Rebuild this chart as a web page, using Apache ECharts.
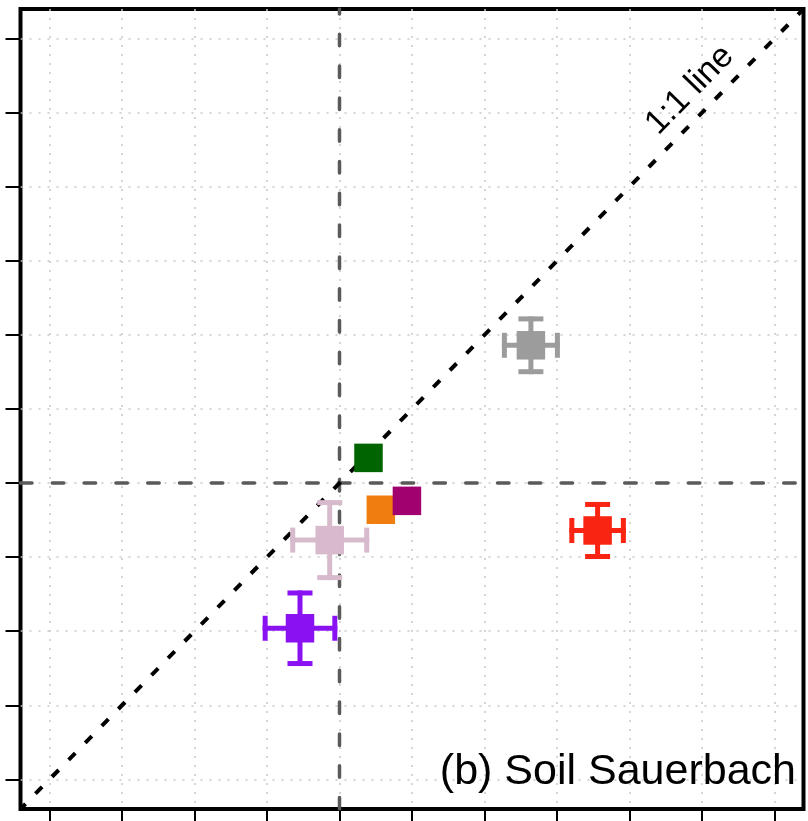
<!DOCTYPE html>
<html>
<head>
<meta charset="utf-8">
<script src="https://cdn.jsdelivr.net/npm/echarts@6/dist/echarts.min.js"></script>
<style>
  html, body { margin: 0; padding: 0; background: #fff; }
  #chart { width: 808px; height: 821px; }
</style>
</head>
<body>
<div id="chart"></div>
<script>
// sample points: centre and +/- error in both directions
const sampleNames = ['purple', 'pink', 'green', 'orange', 'magenta', 'grey', 'red'];
const xValues = [-0.545, -0.135, 0.40, 0.57, 0.93, 2.64, 3.56];
const yValues = [-1.96, -0.77, 0.34, -0.36, -0.24, 1.86, -0.64];
const xErrors = [0.515, 0.545, 0.1, 0.1, 0.1, 0.40, 0.39];
const yErrors = [0.51, 0.54, 0.1, 0.1, 0.1, 0.39, 0.385];
const sampleColors = ['#8A12F2', '#D8BACD', '#006400', '#EF7D0F', '#A1006F', '#9C9C9C', '#FA2412'];

// axes: same range on both, ticks without labels
const axisMin = -4.4;
const axisMax = 6.4;
const tickValues = [-4, -3, -2, -1, 0, 1, 2, 3, 4, 5, 6];
const zeroValue = 0;

const font = '"Liberation Sans", Arial, sans-serif';

const chart = echarts.init(document.getElementById('chart'));

function errorBarItem(params, api) {
    const x = api.value(0), y = api.value(1);
    const ex = api.value(2), ey = api.value(3);
    const c = api.coord([x, y]);
    const l = api.coord([x - ex, y]);
    const r = api.coord([x + ex, y]);
    const t = api.coord([x, y + ey]);
    const b = api.coord([x, y - ey]);
    const w = 5, cap = 25, sq = 28.5;
    const fill = api.visual('color');
    const rects = [
        { x: l[0], y: c[1] - w / 2, width: r[0] - l[0], height: w },
        { x: c[0] - w / 2, y: t[1], width: w, height: b[1] - t[1] },
        { x: l[0], y: c[1] - cap / 2, width: w, height: cap },
        { x: r[0] - w, y: c[1] - cap / 2, width: w, height: cap },
        { x: c[0] - cap / 2, y: t[1], width: cap, height: w },
        { x: c[0] - cap / 2, y: b[1] - w, width: cap, height: w },
        { x: c[0] - sq / 2, y: c[1] - sq / 2, width: sq, height: sq }
    ];
    return {
        type: 'group',
        children: rects.map(function (s) {
            return { type: 'rect', shape: s, style: { fill: fill } };
        })
    };
}

const axisCommon = {
    type: 'value',
    min: axisMin,
    max: axisMax,
    axisLine: { show: false, onZero: false },
    axisLabel: { show: false },
    axisTick: {
        show: true,
        inside: false,
        customValues: tickValues,
        length: 15,
        lineStyle: { color: '#000', width: 2 }
    },
    splitLine: {
        show: true,
        lineStyle: { color: '#c8c8c8', width: 1.5, type: [2, 7] }
    }
};

const zeroStyle = { color: '#5a5a5a', width: 3.5, cap: 'round', type: [11.5, 20.3] };

const series = [
    {
        name: 'zero x',
        type: 'line',
        z: 2,
        silent: true,
        showSymbol: false,
        data: [[axisMin, zeroValue], [axisMax, zeroValue]],
        lineStyle: zeroStyle
    },
    {
        name: 'zero y',
        type: 'line',
        z: 2,
        silent: true,
        showSymbol: false,
        data: [[zeroValue, axisMin], [zeroValue, axisMax]],
        lineStyle: zeroStyle
    },
    {
        name: '1:1 line',
        type: 'line',
        z: 2,
        silent: true,
        showSymbol: false,
        data: [[axisMin, axisMin], [axisMax, axisMax]],
        lineStyle: { color: '#000', width: 4, type: [9.5, 14.2], dashOffset: 2.3 }
    }
];

sampleNames.forEach(function (name, i) {
    series.push({
        name: name,
        type: 'custom',
        z: 3,
        renderItem: errorBarItem,
        itemStyle: { color: sampleColors[i] },
        data: [[xValues[i], yValues[i], xErrors[i], yErrors[i]]]
    });
});

const option = {
    backgroundColor: '#fff',
    animation: false,
    grid: {
        left: 20.5,
        right: 4.5,
        top: 9,
        bottom: 12,
        show: true,
        borderColor: '#000',
        borderWidth: 4,
        backgroundColor: 'transparent'
    },
    xAxis: axisCommon,
    yAxis: axisCommon,
    graphic: [
        {
            type: 'text',
            x: 690,
            y: 90,
            rotation: Math.atan2(800, 783),
            z: 10,
            style: {
                text: '1:1 line',
                font: '34px ' + font,
                fill: '#000',
                align: 'center',
                verticalAlign: 'middle'
            }
        },
        {
            type: 'text',
            x: 796,
            y: 772.5,
            z: 10,
            style: {
                text: '(b) Soil Sauerbach',
                font: '43px ' + font,
                fill: '#000',
                align: 'right',
                verticalAlign: 'middle'
            }
        }
    ],
    series: series
};

chart.setOption(option);
</script>
</body>
</html>
